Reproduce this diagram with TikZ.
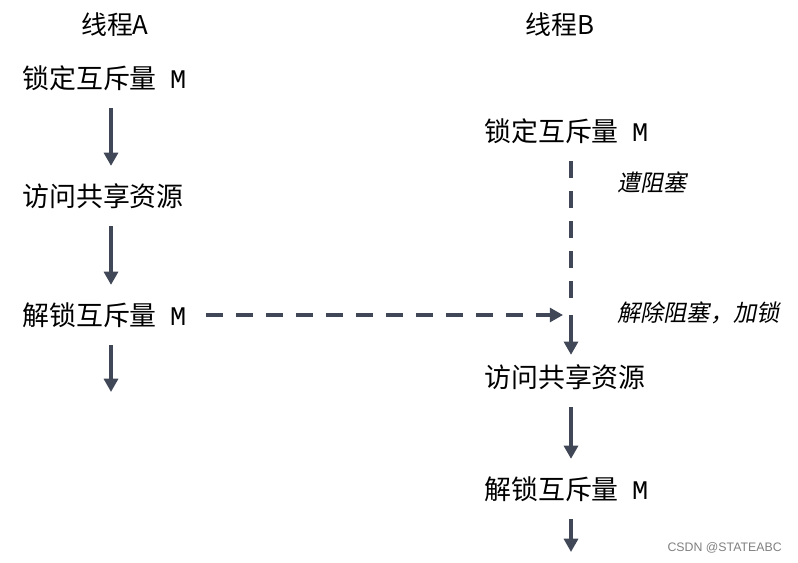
\documentclass[tikz,border=0pt]{standalone}
\usepackage{fontspec}
\setmainfont{Noto Sans CJK SC}
\newfontfamily\slantfont{Noto Sans CJK SC}[FakeSlant=0.2]
\newfontfamily\markfont{Liberation Sans}
\newfontfamily\varfont{Liberation Mono}
\usepackage{xcolor}
\usetikzlibrary{arrows.meta}
\definecolor{flowgray}{HTML}{404756}
\newcommand{\mutexM}{\hspace{10pt}{\varfont M}}

\begin{document}
\begin{tikzpicture}[x=0.0265cm, y=-0.0265cm,
	action/.style={anchor=west, inner sep=0pt, minimum height=45pt, font=\fontsize{20.3}{24}\selectfont},
	title/.style={inner sep=0pt, font=\fontsize{19.5}{23}\selectfont},
	remark/.style={anchor=west, inner sep=0pt, font=\fontsize{17.5}{21}\slantfont},
	flow/.style={flowgray, line width=3pt, -{Triangle[length=10pt, width=10.5pt]}},
	wait/.style={flowgray, line width=3pt, dash pattern=on 12.8pt off 9.8pt}]
	\useasboundingbox (0,0) rectangle (798,563);
	% columns
	\coordinate (colA) at (111,0);
	\coordinate (colB) at (571,0);
	% thread A
	\node[title] (titleA) at (115,25) {线程A};
	\node[action] (lockA) at (22,78) {锁定互斥量\mutexM};
	\node[action] (accessA) at (22,196) {访问共享资源};
	\node[action] (unlockA) at (22,315) {解锁互斥量\mutexM};
	\coordinate (endA) at (111,392);
	\draw[flow] (lockA.south -| colA) -- (accessA.north -| colA);
	\draw[flow] (accessA.south -| colA) -- (unlockA.north -| colA);
	\draw[flow] (unlockA.south -| colA) -- (endA);
	% thread B
	\node[title] (titleB) at (560,25) {线程B};
	\node[action] (lockB) at (484,131) {锁定互斥量\mutexM};
	\node[action] (accessB) at (484,377) {访问共享资源};
	\node[action] (unlockB) at (484,489) {解锁互斥量\mutexM};
	\coordinate (meet) at (571,315);
	\coordinate (endB) at (571,552);
	\draw[wait] (lockB.south -| colB) -- ([yshift=4pt]meet);
	\draw[flow, shorten >=-6pt] (meet) -- (accessB.north -| colB);
	\draw[flow] (accessB.south -| colB) -- (unlockB.north -| colB);
	\draw[flow] (unlockB.south -| colB) -- (endB);
	% unlock wakes B
	\draw[wait, -{Triangle[length=10pt, width=10.5pt]}, shorten <=15pt, shorten >=6pt] (unlockA.east) -- (meet);
	\node[remark] (blocked) at (617,183) {遭阻塞};
	\node[remark] (resumed) at (617,313) {解除阻塞，加锁};
	\node[anchor=east, inner sep=0pt, text=gray, font=\fontsize{9.3}{11}\markfont] (mark) at (782,548) {CSDN @STATEABC};
\end{tikzpicture}
\end{document}
